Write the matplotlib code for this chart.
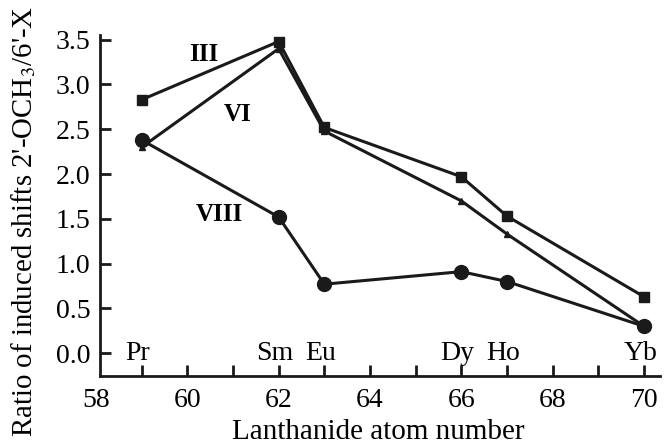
import matplotlib
matplotlib.use('Agg')
import matplotlib.pyplot as plt

# lanthanide atom numbers and symbols
atom_num = [59, 62, 63, 66, 67, 70]
symbols = ['Pr', 'Sm', 'Eu', 'Dy', 'Ho', 'Yb']

# ratio of induced shifts for each compound
ratio_III = [2.83, 3.48, 2.52, 1.97, 1.53, 0.63]
ratio_VI = [2.30, 3.40, 2.48, 1.70, 1.33, 0.30]
ratio_VIII = [2.38, 1.52, 0.77, 0.91, 0.80, 0.30]

plt.rcParams['font.family'] = ['Liberation Serif', 'DejaVu Serif']
plt.rcParams['mathtext.fontset'] = 'stix'

fig = plt.figure(figsize=(6.65, 4.46), dpi=100)
ax = fig.add_axes([0.1444, 0.158, 0.848, 0.763])

ax.plot(atom_num, ratio_III, '-', color='#1a1a1a', lw=2.2, marker='s', ms=7, zorder=3)
ax.plot(atom_num, ratio_VI, '-', color='#1a1a1a', lw=2.2, marker='^', ms=4.5, zorder=2)
ax.plot(atom_num, ratio_VIII, '-', color='#1a1a1a', lw=2.2, marker='o', ms=10, zorder=4)

ax.text(60.35, 3.33, 'III', fontsize=18, fontweight='bold', ha='center', va='center')
ax.text(61.1, 2.67, 'VI', fontsize=18, fontweight='bold', ha='center', va='center')
ax.text(60.7, 1.55, 'VIII', fontsize=18, fontweight='bold', ha='center', va='center')

for xv, s in zip(atom_num, symbols):
    ax.text(xv - 0.08, 0.0, s, fontsize=20, ha='center', va='center')

ax.set_xticks(range(58, 71, 2))
ax.set_xticks(range(59, 71, 1), minor=True)
ax.set_yticks([0.0, 0.5, 1.0, 1.5, 2.0, 2.5, 3.0, 3.5])
ax.set_yticklabels(['0.0', '0.5', '1.0', '1.5', '2.0', '2.5', '3.0', '3.5'])
ax.set_xlim(58.0, 70.35)
ax.set_ylim(-0.25, 3.55)
ax.tick_params(axis='both', which='both', direction='in', labelsize=20, width=2, color='#1a1a1a')
ax.tick_params(axis='both', which='major', length=8)
ax.tick_params(axis='x', which='minor', length=8)
ax.tick_params(axis='x', pad=9)
ax.tick_params(axis='y', pad=7)
# the 58 tick mark sits left of the y axis, only its label is shown
ax.xaxis.get_major_ticks()[0].tick1line.set_visible(False)

for side in ['top', 'right']:
    ax.spines[side].set_visible(False)
for side in ['left', 'bottom']:
    ax.spines[side].set_linewidth(2)
    ax.spines[side].set_color('#1a1a1a')
ax.spines['left'].set_position(('data', 58.09))
ax.spines['bottom'].set_bounds(58.09, 70.35)

ax.set_xlabel('Lanthanide atom number', fontsize=21, labelpad=4)
ax.set_ylabel("Ratio of induced shifts 2'-OCH$_3$/6'-X", fontsize=20.8)
ax.yaxis.set_label_coords(-0.103, 0.452)

fig.savefig('out.png', dpi=100)
